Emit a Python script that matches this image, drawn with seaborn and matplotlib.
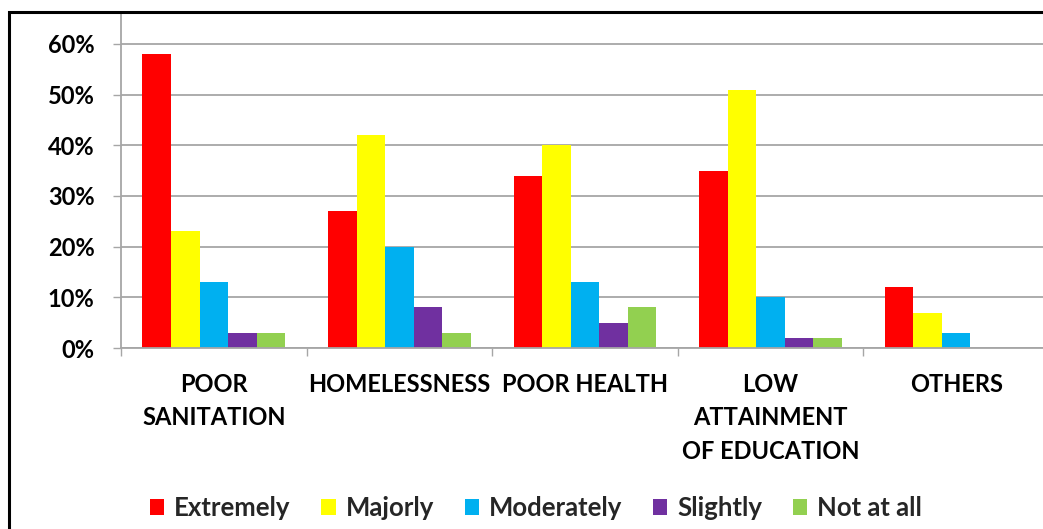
import matplotlib
matplotlib.use("Agg")
import matplotlib.pyplot as plt
import matplotlib.patches as mpatches
from matplotlib.ticker import FixedLocator, FuncFormatter
import seaborn as sns
import pandas as pd

categories = ["POOR\nSANITATION", "HOMELESSNESS", "POOR HEALTH",
              "LOW\nATTAINMENT\nOF EDUCATION", "OTHERS"]
series = ["Extremely", "Majorly", "Moderately", "Slightly", "Not at all"]
extremely = [58, 27, 34, 35, 12]
majorly = [23, 42, 40, 51, 7]
moderately = [13, 20, 13, 10, 3]
slightly = [3, 8, 5, 2, 0]
not_at_all = [3, 3, 8, 2, 0]
colors = ["#FF0000", "#FFFF00", "#00B0F0", "#7030A0", "#92D050"]

values = [extremely, majorly, moderately, slightly, not_at_all]
rows = []
for s, vals in zip(series, values):
    for c, v in zip(categories, vals):
        rows.append({"category": c, "level": s, "pct": v})
df = pd.DataFrame(rows)

sns.set_theme(style="white")
plt.rcParams["font.family"] = ["Lato", "DejaVu Sans"]
plt.rcParams["font.weight"] = "bold"

W, H = 1043, 529
fig = plt.figure(figsize=(W / 100, H / 100), dpi=100)
ax = fig.add_axes([121 / W, 1 - 348 / H, (1049 - 121) / W, (348 - 12) / H])

sns.barplot(data=df, x="category", y="pct", hue="level", order=categories,
            hue_order=series, palette=colors, saturation=1, width=0.77,
            gap=0, linewidth=0, ax=ax, legend=False, errorbar=None)

ax.set_xlim(-0.5, len(categories) - 0.5)
ax.set_ylim(0, 66.3)
ax.set_xlabel("")
ax.set_ylabel("")

grid_c = "#a6a6a6"
ax.yaxis.set_major_locator(FixedLocator([0, 10, 20, 30, 40, 50, 60]))
ax.yaxis.set_major_formatter(FuncFormatter(lambda v, p: f"{v:.0f}%"))
ax.grid(axis="y", color=grid_c, linewidth=1.3)
ax.set_axisbelow(True)

ax.xaxis.set_minor_locator(FixedLocator([i - 0.5 for i in range(len(categories) + 1)]))
ax.tick_params(axis="x", which="major", length=0, pad=18, labelsize=17,
               labelcolor="black")
ax.tick_params(axis="x", which="minor", length=6, width=1, color=grid_c,
               direction="out", bottom=True)
ax.tick_params(axis="y", which="major", length=6, width=1, color=grid_c,
               direction="out", left=True, pad=13, labelsize=17,
               labelcolor="black")
for lbl in ax.get_xticklabels():
    lbl.set_fontweight("bold")
    lbl.set_linespacing(1.55)
    lbl.set_verticalalignment("top")
for lbl in ax.get_yticklabels():
    lbl.set_fontweight("bold")

for side in ["top", "right"]:
    ax.spines[side].set_visible(False)
for side in ["left", "bottom"]:
    ax.spines[side].set_color(grid_c)
    ax.spines[side].set_linewidth(1.3)

# outer chart border
fig.add_artist(mpatches.Rectangle((9 / W, -0.1), 1.2, 1.1 - 12 / H, fill=False,
                                  edgecolor="black", linewidth=2.2,
                                  transform=fig.transFigure))

handles = [mpatches.Patch(facecolor=c, edgecolor="none") for c in colors]
fig.legend(handles, series, loc="center", bbox_to_anchor=(536 / W, 1 - 508 / H),
           ncol=5, frameon=False, handlelength=0.56, handleheight=0.55,
           handletextpad=0.38, columnspacing=1.2,
           prop={"size": 18.5, "weight": "bold"})

fig.savefig("out.png", dpi=100)
